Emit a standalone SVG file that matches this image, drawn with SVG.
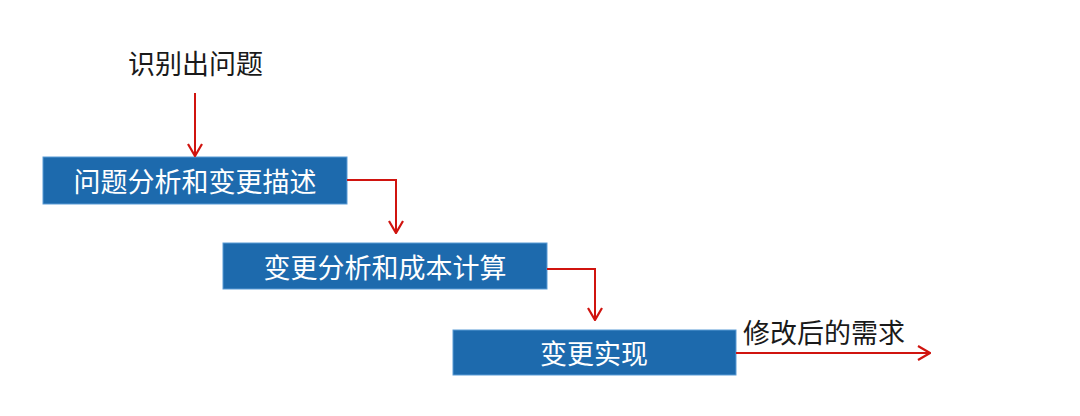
<svg xmlns="http://www.w3.org/2000/svg" width="1080" height="416" viewBox="0 0 1080 416">
<style>
.box{fill:#1D6AAD;stroke:#5B9BD5;stroke-width:1}
.bt{font-family:"Noto Sans CJK SC","Noto Sans",sans-serif;font-size:27px;fill:#FFFFFF;text-anchor:middle;dominant-baseline:central}
.lt{font-family:"Noto Sans CJK SC","Noto Sans",sans-serif;font-size:27px;fill:#1a1a1a;dominant-baseline:central}
.con{fill:none;stroke:#D0140F;stroke-width:2}
</style>
<defs>
<marker id="ah" viewBox="0 0 14 16" refX="13" refY="8" markerWidth="14" markerHeight="16" markerUnits="userSpaceOnUse" orient="auto">
<path d="M1,1 L13,8 L1,15" fill="none" stroke="#D0140F" stroke-width="2.2"/>
</marker>
</defs>
<rect width="1080" height="416" fill="#FFFFFF"/>
<g id="start">
<text class="lt" x="128" y="62">识别出问题</text>
</g>
<g id="n1">
<rect class="box" x="43" y="157" width="304" height="47"/>
<text class="bt" x="195" y="180">问题分析和变更描述</text>
</g>
<g id="n2">
<rect class="box" x="223" y="243" width="324" height="46"/>
<text class="bt" x="385" y="266">变更分析和成本计算</text>
</g>
<g id="n3">
<rect class="box" x="453" y="330" width="283" height="45"/>
<text class="bt" x="594" y="352">变更实现</text>
</g>
<g id="output">
<text class="lt" x="743" y="331">修改后的需求</text>
</g>
<g id="connectors">
<path class="con" d="M195,93 L195,156" marker-end="url(#ah)"/>
<path class="con" d="M347,180 L396,180 L396,233" marker-end="url(#ah)"/>
<path class="con" d="M547,269 L595,269 L595,320" marker-end="url(#ah)"/>
<path class="con" d="M736,353 L930,353" marker-end="url(#ah)"/>
</g>
</svg>
